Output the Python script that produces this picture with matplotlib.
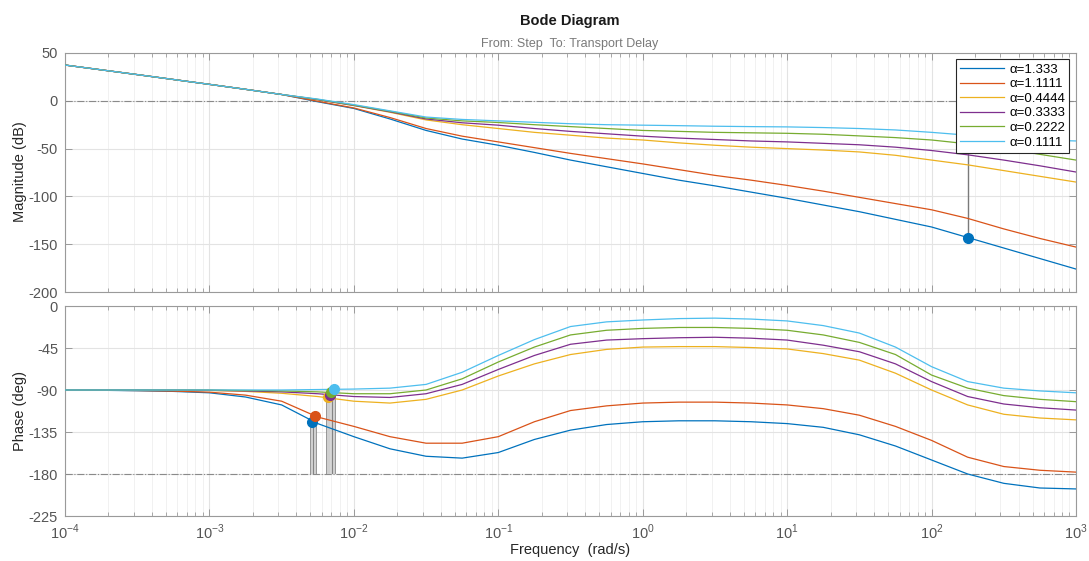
import numpy as np
import matplotlib
matplotlib.use("Agg")
import matplotlib.pyplot as plt
from matplotlib.ticker import LogLocator, NullFormatter, FixedLocator, FixedFormatter

plt.rcParams['font.family'] = ['Liberation Sans', 'DejaVu Sans']
plt.rcParams['axes.unicode_minus'] = False
plt.rcParams['mathtext.fontset'] = 'custom'
plt.rcParams['mathtext.rm'] = 'Liberation Sans'

# ---------------- data ----------------
log_w = [-4.0, -3.75, -3.5, -3.25, -3.0, -2.75, -2.5, -2.25, -2.0, -1.75, -1.5, -1.25,
         -1.0, -0.75, -0.5, -0.25, 0.0, 0.25, 0.5, 0.75, 1.0, 1.25, 1.5, 1.75, 2.0,
         2.25, 2.5, 2.75, 3.0]

labels = ["α=1.333", "α=1.1111", "α=0.4444", "α=0.3333", "α=0.2222", "α=0.1111"]
colors = ["#0072BD", "#D95319", "#EDB120", "#7E2F8E", "#77AC30", "#4DBEEE"]

x_ticks = [1e-4, 1e-3, 1e-2, 1e-1, 1e0, 1e1, 1e2, 1e3]
x_ticklabels = ["$10^{-4}$", "$10^{-3}$", "$10^{-2}$", "$10^{-1}$", "$10^{0}$",
                "$10^{1}$", "$10^{2}$", "$10^{3}$"]

mag_a1333 = [37.4, 32.4, 27.4, 22.3, 17.2, 12.0, 6.6, -1.0, -8.0, -19.0, -31.0, -40.0,
             -46.5, -54.0, -62.0, -69.0, -76.0, -83.0, -89.0, -95.5, -102.0, -109.0, -116.0,
             -124.0, -132.0, -143.0, -154.0, -165.0, -176.0]
mag_a11111 = [37.4, 32.4, 27.4, 22.3, 17.2, 12.0, 6.6, -0.5, -7.5, -17.5, -29.0, -37.0,
              -43.0, -49.0, -55.0, -60.5, -66.0, -72.0, -78.0, -83.0, -88.5, -94.5, -101.0,
              -107.5, -114.0, -123.0, -134.0, -144.0, -153.0]
mag_a04444 = [37.4, 32.4, 27.4, 22.3, 17.2, 12.0, 6.6, 1.0, -5.0, -12.0, -20.0, -25.0,
              -29.0, -33.0, -36.0, -39.0, -41.0, -44.0, -46.5, -48.5, -50.0, -51.5, -53.5,
              -57.0, -62.0, -67.0, -73.0, -79.0, -85.0]
mag_a03333 = [37.4, 32.4, 27.4, 22.3, 17.2, 12.0, 6.6, 1.2, -4.8, -11.5, -19.0, -23.0,
              -25.5, -29.0, -32.0, -34.5, -37.0, -39.0, -40.5, -42.0, -43.0, -44.5, -46.0,
              -48.5, -52.0, -56.5, -62.0, -68.0, -74.5]
mag_a02222 = [37.4, 32.4, 27.4, 22.3, 17.2, 12.0, 6.6, 1.5, -4.5, -11.0, -18.0, -21.0,
              -22.7, -25.0, -27.0, -29.0, -31.0, -32.0, -33.0, -33.5, -34.0, -35.0, -36.7,
              -38.5, -41.0, -45.0, -50.0, -56.0, -62.0]
mag_a01111 = [37.4, 32.4, 27.4, 22.3, 17.2, 12.0, 6.6, 1.8, -4.0, -10.5, -17.0, -19.5,
              -21.0, -22.5, -24.0, -25.0, -25.5, -26.0, -26.6, -27.0, -27.3, -28.0, -29.0,
              -30.5, -33.0, -36.0, -39.5, -41.0, -42.0]

ph_a1333 = [-90.0, -90.3, -90.8, -91.5, -93.0, -97.5, -106.0, -126.0, -140.0, -153.0, -161.0,
            -163.0, -157.0, -143.0, -133.0, -127.0, -124.0, -123.0, -123.0, -124.0, -126.0,
            -130.0, -138.0, -150.0, -165.0, -180.0, -190.0, -195.0, -196.0]
ph_a11111 = [-90.0, -90.2, -90.6, -91.2, -92.3, -95.5, -102.0, -119.0, -129.0, -140.0, -147.0,
             -147.0, -140.0, -124.0, -112.0, -107.0, -104.0, -103.0, -103.0, -104.0, -106.0,
             -110.0, -117.0, -129.0, -144.0, -162.0, -172.0, -176.0, -178.0]
ph_a04444 = [-90.0, -90.0, -90.1, -90.2, -90.5, -91.5, -93.5, -97.0, -102.0, -104.0, -100.0,
             -90.0, -75.0, -62.0, -52.0, -46.5, -44.0, -43.5, -43.5, -44.5, -46.0, -51.0,
             -58.0, -72.0, -90.0, -106.0, -116.0, -120.0, -122.0]
ph_a03333 = [-90.0, -90.0, -90.0, -90.1, -90.3, -91.0, -92.0, -94.0, -97.0, -98.0, -94.0,
             -84.0, -68.0, -53.0, -41.0, -36.5, -35.0, -34.0, -33.5, -34.5, -36.5, -42.0,
             -49.0, -62.0, -81.0, -97.0, -105.0, -109.0, -111.5]
ph_a02222 = [-90.0, -90.0, -90.0, -90.0, -90.0, -90.5, -91.0, -92.0, -94.0, -94.0, -90.0,
             -78.0, -60.0, -44.0, -31.0, -26.0, -24.0, -23.0, -23.0, -24.0, -26.0, -31.0,
             -39.0, -52.0, -74.0, -88.0, -96.0, -100.0, -102.5]
ph_a01111 = [-90.0, -90.0, -90.0, -90.0, -90.0, -90.0, -90.0, -89.5, -89.0, -88.0, -84.0,
             -71.0, -53.0, -36.0, -22.0, -17.0, -15.0, -13.5, -13.0, -14.0, -16.0, -21.0,
             -29.0, -44.0, -65.0, -81.0, -88.0, -91.0, -93.0]

# phase-margin markers (gain crossover)
pm_freq = [0.0051, 0.0054, 0.0066, 0.0068, 0.0070, 0.0073]
pm_phase = [-124.0, -117.5, -98.0, -95.0, -92.0, -89.0]
# gain-margin marker (blue curve)
gm_freq = 178.0
gm_mag = -143.0

mags = [mag_a1333, mag_a11111, mag_a04444, mag_a03333, mag_a02222, mag_a01111]
phases = [ph_a1333, ph_a11111, ph_a04444, ph_a03333, ph_a02222, ph_a01111]

# ---------------- figure ----------------
W, H = 1089, 561
fig = plt.figure(figsize=(W / 100, H / 100), dpi=100)
left = 65 / W
width = (1076 - 65) / W
ax1 = fig.add_axes([left, 1 - 292 / H, width, (292 - 53) / H])
ax2 = fig.add_axes([left, 1 - 516 / H, width, (516 - 306) / H])

w = 10.0 ** np.array(log_w)
spine_c = "#9a9a9a"
tick_c = "#555555"

for ax in (ax1, ax2):
    ax.set_xscale("log")
    ax.set_xlim(1e-4, 1e3)
    ax.xaxis.set_major_locator(FixedLocator(x_ticks))
    ax.xaxis.set_major_formatter(FixedFormatter(x_ticklabels))
    ax.xaxis.set_minor_locator(LogLocator(base=10, subs=np.arange(2, 10), numticks=20))
    ax.xaxis.set_minor_formatter(NullFormatter())
    ax.grid(True, which="major", color="#e3e3e3", lw=0.8, zorder=0)
    ax.grid(True, which="minor", axis="x", color="#efefef", lw=0.6, zorder=0)
    ax.tick_params(which="both", direction="in", top=True, right=True,
                   colors=spine_c, labelcolor=tick_c, labelsize=10.5, pad=5)
    ax.tick_params(which="major", length=5, width=0.7)
    ax.tick_params(which="minor", length=3, width=0.6)
    for s in ax.spines.values():
        s.set_color(spine_c)
        s.set_linewidth(0.8)
    ax.set_axisbelow(True)

# magnitude
ax1.set_ylim(-200, 50)
ax1.yaxis.set_major_locator(FixedLocator([50, 0, -50, -100, -150, -200]))
ax1.tick_params(axis="x", labelbottom=False)
ax1.axhline(0, color="#8a8a8a", lw=0.8, ls="-.", zorder=1)
lines = []
for m, c, lab in zip(mags, colors, labels):
    ln, = ax1.plot(w, m, color=c, lw=0.9, label=lab, zorder=3)
    lines.append(ln)
ax1.plot([gm_freq, gm_freq], [0, gm_mag], color="#7a7a7a", lw=1.0, zorder=2)
ax1.plot([gm_freq], [gm_mag], "o", color=colors[0], ms=7, zorder=5)
leg = ax1.legend(handles=lines, loc="upper right", bbox_to_anchor=(0.993, 0.973),
                 borderaxespad=0, fancybox=False, framealpha=1, edgecolor="#262626",
                 fontsize=9.5, handlelength=3.3, labelspacing=0.18, borderpad=0.3,
                 handletextpad=0.4)
leg.get_frame().set_linewidth(0.8)
leg.set_zorder(10)

# phase
ax2.set_ylim(-225, 0)
ax2.yaxis.set_major_locator(FixedLocator([0, -45, -90, -135, -180, -225]))
ax2.axhline(-180, color="#8a8a8a", lw=0.8, ls="-.", zorder=1)
for p, c in zip(phases, colors):
    ax2.plot(w, p, color=c, lw=0.9, zorder=3)
ax2.vlines(pm_freq, -180, pm_phase, colors="#808080", lw=2.6, zorder=2)
ax2.vlines(pm_freq, -180, pm_phase, colors="#d8d8d8", lw=1.3, zorder=2)
for f, p, c in zip(pm_freq, pm_phase, colors):
    ax2.plot([f], [p], "o", color=c, ms=7, zorder=5)

# texts
fig.text(570 / W, 1 - 21 / H, "Bode Diagram", ha="center", va="center",
         fontsize=10.5, fontweight="bold", color="#1a1a1a")
fig.text(570 / W, 1 - 44 / H, "From: Step  To: Transport Delay", ha="center",
         va="center", fontsize=9, color="#7a7a7a")
fig.text(20 / W, 1 - 172 / H, "Magnitude (dB)", rotation=90, ha="center",
         va="center", fontsize=10.5, color="#262626")
fig.text(20 / W, 1 - 411 / H, "Phase (deg)", rotation=90, ha="center",
         va="center", fontsize=10.5, color="#262626")
fig.text(570 / W, 1 - 550 / H, "Frequency  (rad/s)", ha="center", va="center",
         fontsize=10.5, color="#262626")

fig.savefig("out.png", dpi=100)
